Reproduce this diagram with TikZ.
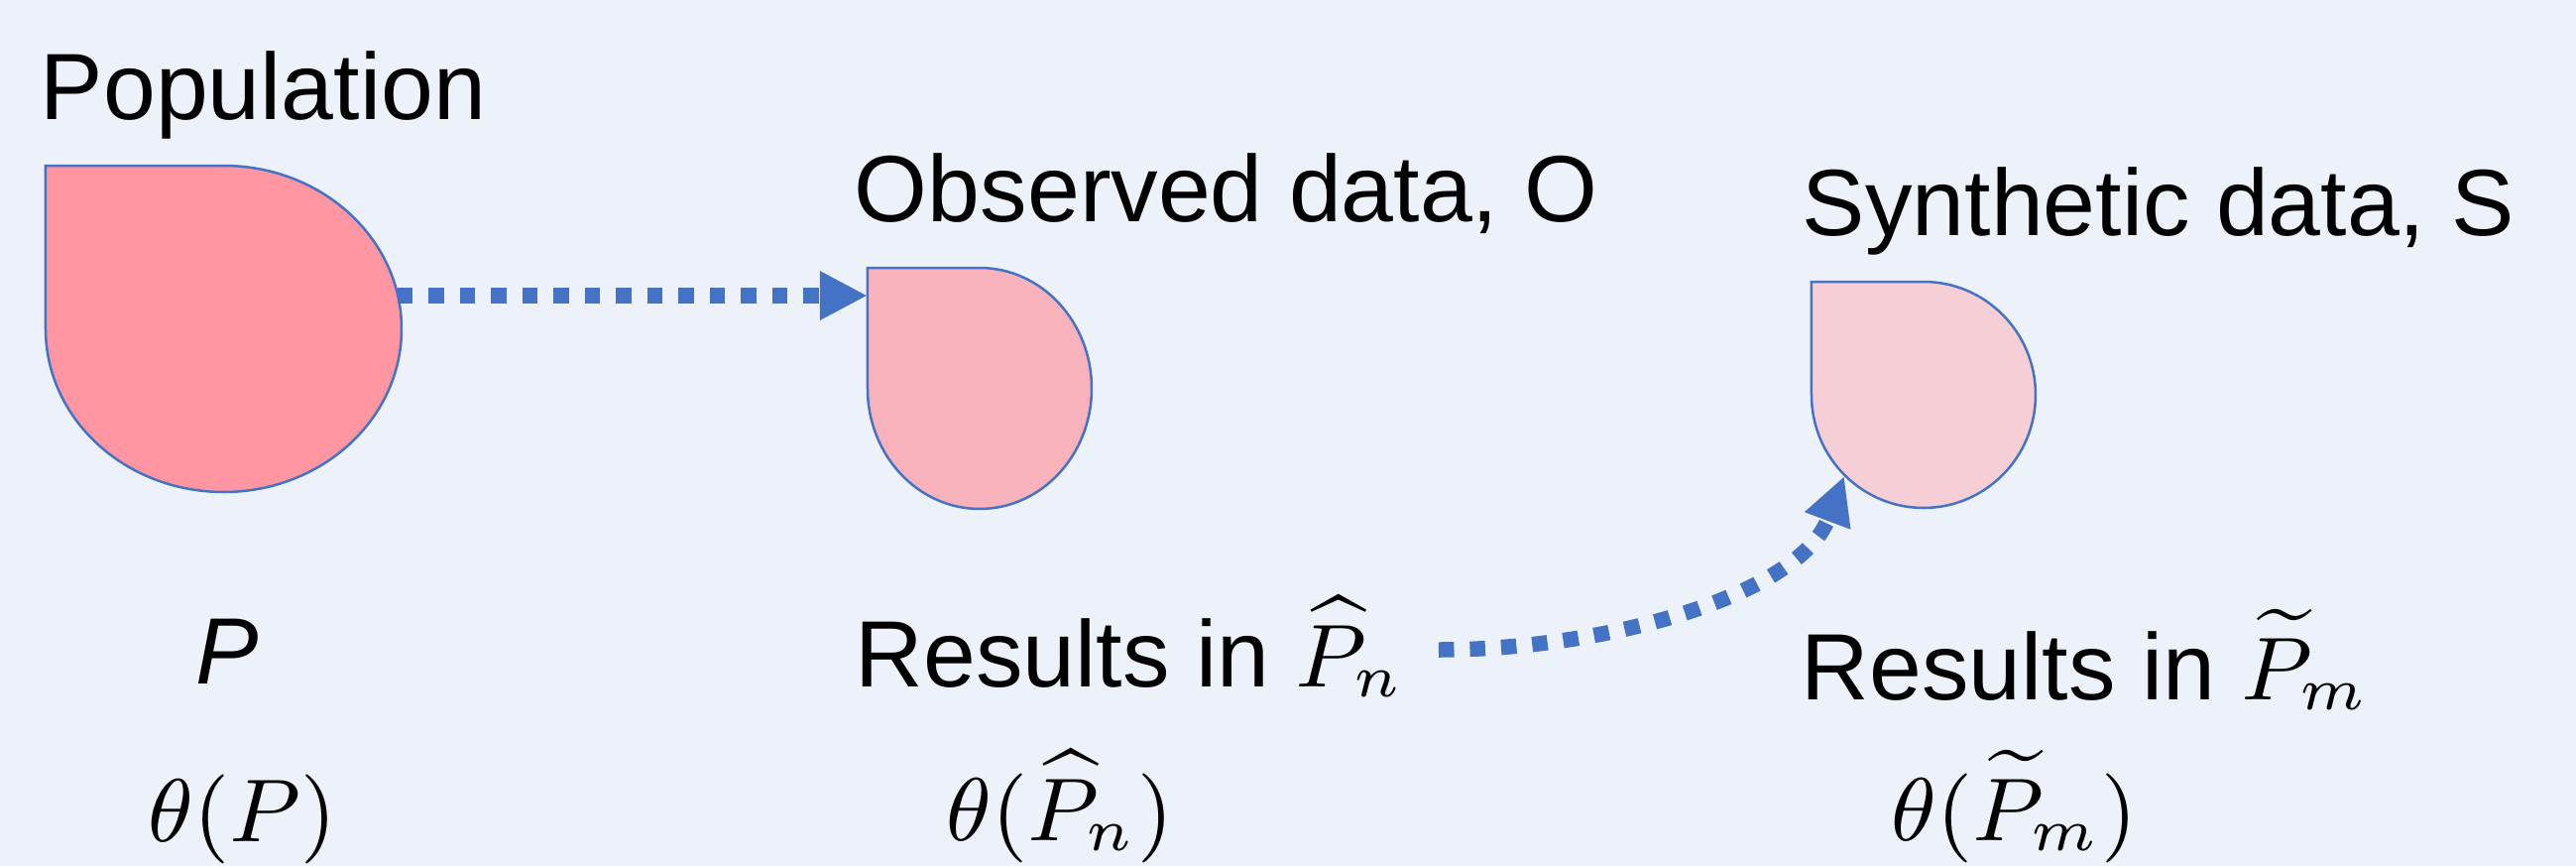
\documentclass[tikz,border=0pt]{standalone}
\usepackage[no-math]{fontspec}
\newfontfamily\arial{Liberation Sans}
\usetikzlibrary{arrows.meta}
\definecolor{bg}{RGB}{237,242,250}
\definecolor{edge}{RGB}{68,114,196}
\definecolor{popfill}{RGB}{255,150,161}
\definecolor{obsfill}{RGB}{248,178,188}
\definecolor{synfill}{RGB}{245,206,214}
\tikzset{
  blob/.style={draw=edge, line width=0.25pt},
  lbl/.style={anchor=base west, inner sep=0pt, font=\arial\fontsize{9.5}{11}\selectfont},
  mth/.style={anchor=base west, inner sep=0pt, font=\fontsize{9}{11}\selectfont},
  flow/.style={draw=edge, line width=1.55pt, dash pattern=on 1.55pt off 1.6pt,
    -{Triangle[length=4.8pt,width=4.6pt]}},
}
\newcommand{\mathsz}[1]{{\fontsize{9}{10}\selectfont$#1$}}
\begin{document}
\begin{tikzpicture}[x=0.1pt, y=0.1pt]
  \fill[bg] (0,0) rectangle (2598,-873);
  \useasboundingbox (0,0) rectangle (2598,-873);

  % shapes
  \path[blob, fill=popfill] (46,-167) -- (225.5,-167)
    arc[start angle=90, end angle=-180, x radius=179.5, y radius=164.5] -- cycle;
  \path[blob, fill=obsfill] (875,-270) -- (988,-270)
    arc[start angle=90, end angle=-180, x radius=113, y radius=121.5] -- cycle;
  \path[blob, fill=synfill] (1827,-284) -- (1940,-284)
    arc[start angle=90, end angle=-180, x radius=113, y radius=114] -- cycle;

  % anchor points
  \coordinate (popE) at (401,-298);
  \coordinate (obsW) at (875,-298);
  \coordinate (resS) at (1451,-655);
  \coordinate (synSW) at (1860,-480);

  % labels
  \node[lbl] (poplbl) at (39,-120) {Population};
  \node[lbl] (obslbl) at (860,-223) {Observed data, O};
  \node[lbl] (synlbl) at (1816,-237) {Synthetic data, S};

  \node[lbl] (pP) at (196,-689) {\textit{P}};
  \node[lbl] (resO) at (861,-692) {Results in \mathsz{\widehat{P}_n}};
  \node[lbl] (resT) at (1815,-705) {Results in \mathsz{\widetilde{P}_m}};

  \node[mth] (thP) at (148,-848) {$\theta(P)$};
  \node[mth] (thO) at (953,-847) {$\theta(\widehat{P}_n)$};
  \node[mth] (thS) at (1906,-847) {$\theta(\widetilde{P}_m)$};

  % connectors
  \draw[flow] (popE) -- (obsW);
  \draw[flow] (resS) .. controls (1620,-655) and (1815,-600) .. (synSW);
\end{tikzpicture}
\end{document}
